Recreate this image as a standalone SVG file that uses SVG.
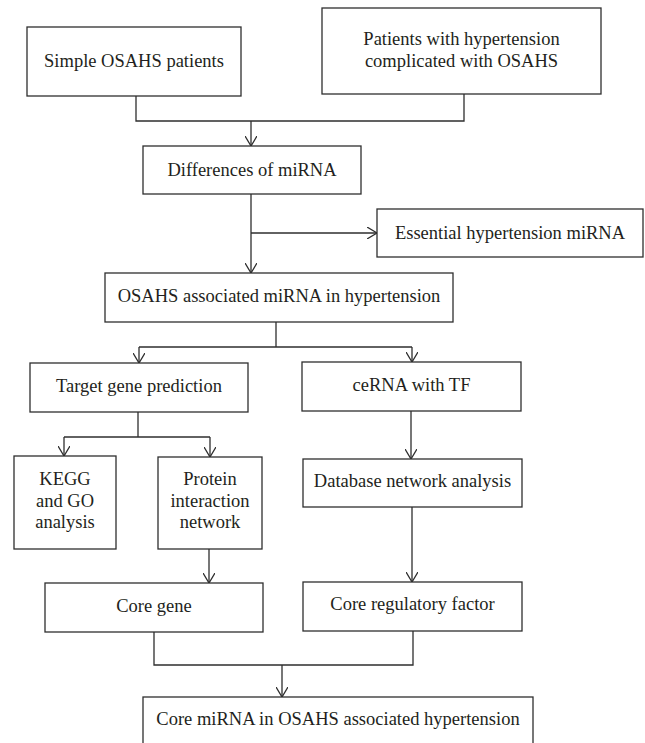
<svg xmlns="http://www.w3.org/2000/svg" width="645" height="743" viewBox="0 0 645 743">
<style>
.box{fill:#fff;stroke:#2e2e2e;stroke-width:1.3}
.t{font-family:"Liberation Serif","Times New Roman",serif;font-size:18.5px;fill:#231f20;text-anchor:middle}
.c{fill:none;stroke:#2e2e2e;stroke-width:1.3}
</style>
<defs>
<marker id="ah" viewBox="0 0 10 12" refX="10" refY="6" markerWidth="10" markerHeight="12" markerUnits="userSpaceOnUse" orient="auto">
<path d="M0,0 L10,6 L0,12" fill="none" stroke="#2e2e2e" stroke-width="1.3"/>
</marker>
</defs>
<rect width="645" height="743" fill="#fff"/>
<g id="connectors">
<path class="c" d="M136,96 V121 H464 V94"/>
<path class="c" d="M251,121 V146" marker-end="url(#ah)"/>
<path class="c" d="M251,194 V273" marker-end="url(#ah)"/>
<path class="c" d="M251,233 H377" marker-end="url(#ah)"/>
<path class="c" d="M276,322 V347"/>
<path class="c" d="M139,347 H412"/>
<path class="c" d="M139,347 V363" marker-end="url(#ah)"/>
<path class="c" d="M412,347 V362" marker-end="url(#ah)"/>
<path class="c" d="M138,412 V437"/>
<path class="c" d="M64,437 H210"/>
<path class="c" d="M64,437 V456" marker-end="url(#ah)"/>
<path class="c" d="M210,437 V457" marker-end="url(#ah)"/>
<path class="c" d="M411,411 V459" marker-end="url(#ah)"/>
<path class="c" d="M209,549 V583" marker-end="url(#ah)"/>
<path class="c" d="M412,507 V582" marker-end="url(#ah)"/>
<path class="c" d="M154,632 V665 H413 V631"/>
<path class="c" d="M282,665 V697" marker-end="url(#ah)"/>
</g>
<g id="simple">
<rect class="box" x="27" y="27" width="214" height="69"/>
<text class="t" x="134" y="67">Simple OSAHS patients</text>
</g>
<g id="patients">
<rect class="box" x="322" y="8" width="279" height="86"/>
<text class="t" x="461.5" y="45">Patients with hypertension</text>
<text class="t" x="461.5" y="67">complicated with OSAHS</text>
</g>
<g id="differences">
<rect class="box" x="143" y="146" width="218" height="48"/>
<text class="t" x="252" y="176">Differences of miRNA</text>
</g>
<g id="essential">
<rect class="box" x="377" y="209" width="266" height="48"/>
<text class="t" x="510" y="239">Essential hypertension miRNA</text>
</g>
<g id="osahs">
<rect class="box" x="105" y="273" width="348" height="49"/>
<text class="t" x="279" y="302">OSAHS associated miRNA in hypertension</text>
</g>
<g id="target">
<rect class="box" x="30" y="363" width="218" height="49"/>
<text class="t" x="139" y="392">Target gene prediction</text>
</g>
<g id="cerna">
<rect class="box" x="302" y="362" width="219" height="49"/>
<text class="t" x="411.5" y="391">ceRNA with TF</text>
</g>
<g id="kegg">
<rect class="box" x="14" y="456" width="102" height="93"/>
<text class="t" x="65" y="485">KEGG</text>
<text class="t" x="65" y="507">and GO</text>
<text class="t" x="65" y="528">analysis</text>
</g>
<g id="protein">
<rect class="box" x="158" y="457" width="104" height="92"/>
<text class="t" x="210" y="485">Protein</text>
<text class="t" x="210" y="507">interaction</text>
<text class="t" x="210" y="528">network</text>
</g>
<g id="database">
<rect class="box" x="303" y="459" width="219" height="48"/>
<text class="t" x="412.5" y="487">Database network analysis</text>
</g>
<g id="coregene">
<rect class="box" x="45" y="583" width="218" height="49"/>
<text class="t" x="154" y="612">Core gene</text>
</g>
<g id="coreregulatory">
<rect class="box" x="303" y="582" width="219" height="49"/>
<text class="t" x="412.5" y="610">Core regulatory factor</text>
</g>
<g id="coremirna">
<rect class="box" x="143" y="697" width="390" height="60"/>
<text class="t" x="338" y="725">Core miRNA in OSAHS associated hypertension</text>
</g>
</svg>
